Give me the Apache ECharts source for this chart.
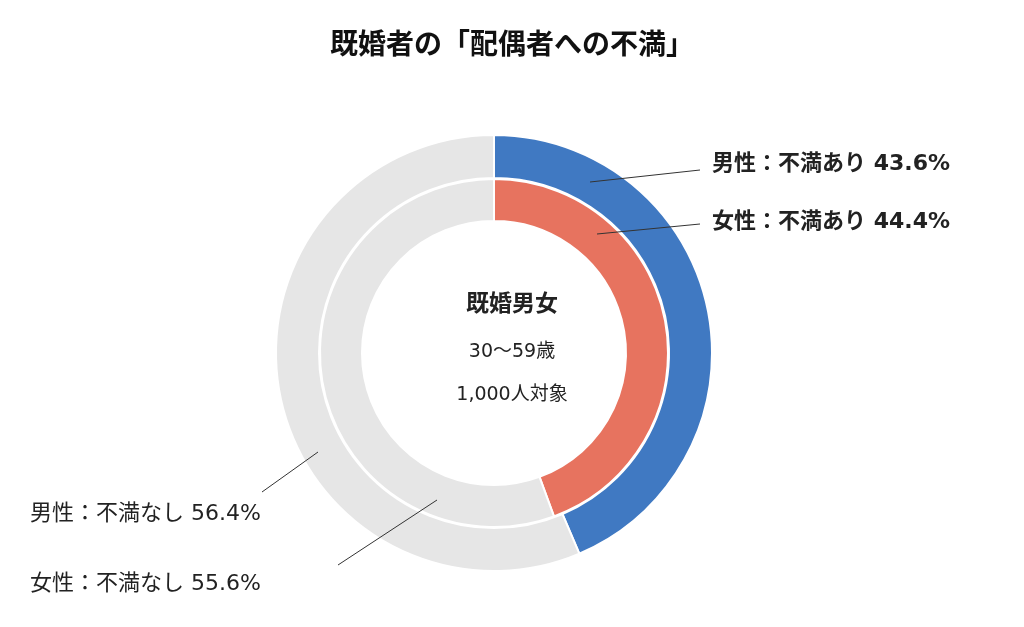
<!DOCTYPE html>
<html><head><meta charset="utf-8">
<script src="https://cdn.jsdelivr.net/npm/echarts@6/dist/echarts.min.js"></script>
<style>html,body{margin:0;background:#fff}#c{width:1024px;height:627px}</style>
</head><body><div id="c"></div>
<script>
var categories = ['不満あり', '不満なし'];
var maleValues = [43.6, 56.4];
var femaleValues = [44.4, 55.6];
var colors = { male: '#4079c2', female: '#e7735f', none: '#e6e6e6' };
var font = '"DejaVu Sans", "Noto Sans CJK JP", sans-serif';

var chart = echarts.init(document.getElementById('c'));

function ringData(values, color) {
    return values.map(function (v, i) {
        return { name: categories[i], value: v, itemStyle: { color: i === 0 ? color : colors.none } };
    });
}

function label(text, x, y, bold) {
    return { type: 'text', z: 10, left: x, top: y, style: { text: text, font: (bold ? 'bold ' : '') + '22px ' + font, fill: '#222' } };
}
function line(x1, y1, x2, y2) {
    return { type: 'line', z: 10, shape: { x1: x1, y1: y1, x2: x2, y2: y2 }, style: { stroke: '#333', lineWidth: 1 } };
}

chart.setOption({
    title: {
        text: '既婚者の「配偶者への不満」', left: 'center', top: 28,
        textStyle: { fontFamily: font, fontSize: 28, fontWeight: 'bold', color: '#111' }
    },
    series: [{
        type: 'pie', center: [494, 353], radius: [175, 218], startAngle: 90,
        silent: true, label: { show: false },
        itemStyle: { borderColor: '#fff', borderWidth: 2 },
        data: ringData(maleValues, colors.male)
    }, {
        type: 'pie', center: [494, 353], radius: [132, 174], startAngle: 90,
        silent: true, label: { show: false },
        itemStyle: { borderColor: '#fff', borderWidth: 2 },
        data: ringData(femaleValues, colors.female)
    }],
    graphic: [
        { type: 'text', z: 10, left: 'center', top: 294, style: { text: '既婚男女', font: 'bold 23px ' + font, fill: '#222' } },
        { type: 'text', z: 10, left: 'center', top: 343, style: { text: '30～59歳', font: '19px ' + font, fill: '#222' } },
        { type: 'text', z: 10, left: 'center', top: 386, style: { text: '1,000人対象', font: '19px ' + font, fill: '#222' } },
        label('男性：不満あり 43.6%', 712, 153, true),
        label('女性：不満あり 44.4%', 712, 211, true),
        label('男性：不満なし 56.4%', 30, 503, false),
        label('女性：不満なし 55.6%', 30, 573, false),
        line(590, 182, 700, 170),
        line(597, 234, 700, 224),
        line(318, 452, 262, 492),
        line(437, 500, 338, 565)
    ]
});
</script>
</body></html>
